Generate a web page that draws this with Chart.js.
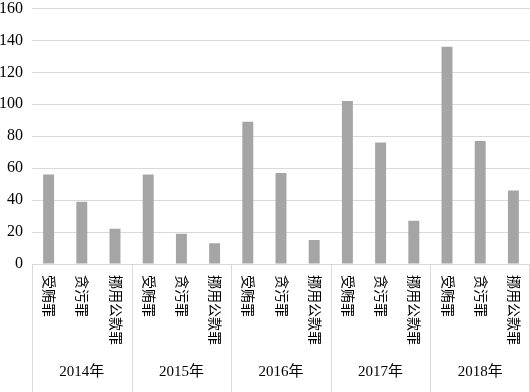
<!DOCTYPE html>
<html>
<head>
<meta charset="utf-8">
<script src="https://cdn.jsdelivr.net/npm/chart.js@4/dist/chart.umd.min.js"></script>
<style>
html,body{margin:0;padding:0;background:#fff;overflow:hidden;}
#wrap{width:530px;height:392px;position:relative;overflow:hidden;}
#c{position:absolute;left:0;top:-8px;}
</style>
</head>
<body>
<div id="wrap"><canvas id="c" width="530" height="400"></canvas></div>
<script>
const years = ['2014年','2015年','2016年','2017年','2018年'];
const crimes = ['受贿罪','贪污罪','挪用公款罪'];
const bribery = [56, 56, 89, 102, 136];
const embezzlement = [39, 19, 57, 76, 77];
const misappropriation = [22, 13, 15, 27, 46];
const yTicks = [0, 20, 40, 60, 80, 100, 120, 140, 160];

const labels = [];
const values = [];
years.forEach((y, i) => {
  labels.push(crimes[0], crimes[1], crimes[2]);
  values.push(bribery[i], embezzlement[i], misappropriation[i]);
});

const serif = "'Liberation Serif', 'Times New Roman', 'Noto Sans CJK SC', serif";
const cjk = "'Noto Sans CJK SC', 'Liberation Serif', serif";

const groupLabels = {
  id: 'groupLabels',
  afterDraw(chart) {
    const ctx = chart.ctx;
    const xs = chart.scales.x;
    const area = chart.chartArea;
    ctx.save();
    ctx.strokeStyle = '#d9d9d9';
    ctx.lineWidth = 1;
    const n = years.length;
    const gw = (area.right - area.left) / n;
    for (let i = 0; i <= n; i++) {
      let x = Math.round(area.left + i * gw) + 0.5;
      if (i === n) x = Math.min(x, chart.width - 0.5);
      ctx.beginPath();
      ctx.moveTo(x, area.bottom);
      ctx.lineTo(x, chart.height);
      ctx.stroke();
    }
    ctx.fillStyle = '#000';
    ctx.font = "14px " + cjk;
    ctx.textAlign = 'left';
    ctx.textBaseline = 'middle';
    labels.forEach((lab, i) => {
      const x = xs.getPixelForValue(i) + 1;
      ctx.save();
      ctx.translate(x, area.bottom + 11);
      ctx.rotate(Math.PI / 2);
      ctx.fillText(lab, 0, 0);
      ctx.restore();
    });
    ctx.font = "15px " + serif;
    ctx.textAlign = 'center';
    years.forEach((y, i) => {
      const x = xs.getPixelForValue(i * 3 + 1);
      ctx.fillText(y, x, area.bottom + 108);
    });
    ctx.restore();
  }
};

new Chart(document.getElementById('c'), {
  type: 'bar',
  data: {
    labels: labels,
    datasets: [{
      data: values,
      backgroundColor: '#a5a5a5',
      borderWidth: 0,
      barPercentage: 0.66,
      categoryPercentage: 0.5
    }]
  },
  options: {
    responsive: false,
    animation: false,
    devicePixelRatio: 1,
    layout: { padding: 0 },
    plugins: { legend: { display: false }, tooltip: { enabled: false } },
    scales: {
      x: {
        grid: { display: false },
        border: { display: false },
        ticks: { display: false },
        afterFit(s) { s.height = 128; }
      },
      y: {
        min: 0, max: 160,
        afterBuildTicks(s) { s.ticks = yTicks.map(v => ({ value: v })); },
        grid: { color: '#d9d9d9', drawTicks: false, lineWidth: 1 },
        border: { display: false },
        ticks: {
          color: '#000',
          padding: 9,
          font: { family: serif, size: 16, lineHeight: 0.93 }
        },
        afterFit(s) { s.width = 32; }
      }
    }
  },
  plugins: [groupLabels]
});
</script>
</body>
</html>
